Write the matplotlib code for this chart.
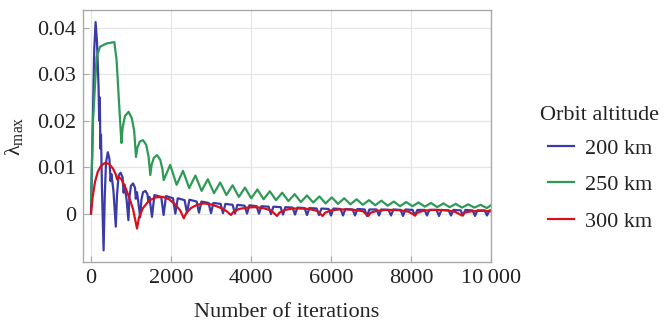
import matplotlib
matplotlib.use("Agg")
import matplotlib.pyplot as plt

plt.rcParams['font.family'] = ['Liberation Serif', 'DejaVu Serif']
plt.rcParams['mathtext.fontset'] = 'custom'
plt.rcParams['mathtext.rm'] = 'Liberation Serif'
plt.rcParams['mathtext.it'] = 'Liberation Serif:italic'

# values (iterations, lambda_max)
iter_200 = [0, 40, 80, 115, 150, 190, 205, 220, 235, 250, 275, 315,
            345, 375, 420, 460, 490, 510, 560, 620,
            650, 690, 740, 790, 815, 840, 890, 935,
            960, 1000, 1050, 1100, 1120, 1150, 1190, 1230,
            1260, 1300, 1360, 1410, 1435, 1460, 1495, 1525,
            1585, 1755, 1815, 1875, 2050, 2108, 2168, 2340, 2400,
            2460, 2640, 2700, 2760, 2940, 3000, 3060, 3240, 3300,
            3360, 3540, 3600, 3660, 3840, 3900, 3960, 4140, 4200,
            4260, 4440, 4500, 4560, 4740, 4800, 4860, 5040, 5100,
            5160, 5340, 5400, 5460, 5640, 5700, 5760, 5940, 6000,
            6060, 6240, 6300, 6360, 6540, 6600, 6660, 6840, 6900,
            6960, 7140, 7200, 7260, 7440, 7500, 7560, 7740, 7800,
            7860, 8040, 8100, 8160, 8340, 8400, 8460, 8640, 8700,
            8760, 8940, 9000, 9060, 9240, 9300, 9360, 9540, 9600,
            9660, 9840, 9900, 9960, 10000]
lam_200 = [0.0, 0.018, 0.035, 0.0412, 0.037, 0.027, 0.020, 0.025, 0.014, 0.017, 0.005, -0.0079,
           0.004, 0.011, 0.0132, 0.0118, 0.007, 0.0085, 0.005, -0.0028,
           0.004, 0.0082, 0.0088, 0.0078, 0.0045, 0.0062, 0.003, -0.0014,
           0.0035, 0.006, 0.0065, 0.0056, 0.0032, 0.0046, 0.002, -0.0008,
           0.003, 0.0046, 0.0049, 0.0042, 0.0025, 0.0036, 0.0012, -0.0007,
           0.0040, 0.0036, -0.0003, 0.0038, 0.0033, 0.0000, 0.0033, 0.0029, 0.0002,
           0.0030, 0.0026, 0.0002, 0.0026, 0.0023, 0.0001, 0.0023, 0.0021, 0.0001,
           0.0021, 0.0019, 0.0000, 0.0019, 0.0017, 0.0000, 0.0018, 0.0016, 0.0000,
           0.0016, 0.0015, -0.0001, 0.0015, 0.0014, -0.0002, 0.0014, 0.0013, -0.0002,
           0.0013, 0.0012, -0.0003, 0.0012, 0.0011, -0.0003, 0.0011, 0.0010, -0.0004,
           0.0011, 0.0010, -0.0004, 0.0010, 0.0009, -0.0004, 0.0010, 0.0009, -0.0005,
           0.0009, 0.0009, -0.0004, 0.0009, 0.0008, -0.0004, 0.0009, 0.0008, -0.0005,
           0.0009, 0.0008, -0.0004, 0.0008, 0.0008, -0.0004, 0.0008, 0.0008, -0.0005,
           0.0008, 0.0007, -0.0004, 0.0008, 0.0007, -0.0004, 0.0008, 0.0007, -0.0005,
           0.0007, 0.0007, -0.0004, 0.0007, 0.0007]

iter_250 = [0, 50, 140, 225, 390, 583, 640, 700, 760,
            790, 850, 940, 1020, 1080, 1125,
            1160, 1220, 1300, 1380, 1440, 1483,
            1515, 1570, 1650, 1730, 1785, 1817,
            1980, 2140, 2300, 2455, 2610, 2765, 2920, 3075, 3230, 3385,
            3540, 3695, 3850, 4005, 4160, 4315, 4470, 4625, 4780, 4935,
            5090, 5245, 5400, 5555, 5710, 5865, 6020, 6175, 6330, 6485,
            6640, 6795, 6950, 7105, 7260, 7415, 7570, 7725, 7880, 8035,
            8190, 8345, 8500, 8655, 8810, 8965, 9120, 9275, 9430, 9585,
            9740, 9895, 10000]
lam_250 = [0.0025, 0.020, 0.0337, 0.0359, 0.0366, 0.0369, 0.0330, 0.0240, 0.0152,
           0.0185, 0.0210, 0.0219, 0.0205, 0.0178, 0.0122,
           0.0142, 0.0155, 0.0158, 0.0148, 0.0122, 0.0083,
           0.0105, 0.0120, 0.0126, 0.0116, 0.0096, 0.0072,
           0.0105, 0.0062, 0.0092, 0.0055, 0.0082, 0.0049, 0.0074, 0.0044, 0.0067, 0.0040,
           0.0061, 0.0036, 0.0056, 0.0033, 0.0052, 0.0031, 0.0048, 0.0029, 0.0045, 0.0027,
           0.0042, 0.0025, 0.0039, 0.0024, 0.0037, 0.0022, 0.0035, 0.0021, 0.0033, 0.0020,
           0.0031, 0.0019, 0.0029, 0.0018, 0.0028, 0.0017, 0.0026, 0.0016, 0.0025, 0.0016,
           0.0024, 0.0015, 0.0023, 0.0014, 0.0022, 0.0014, 0.0021, 0.0013, 0.0020, 0.0013,
           0.0019, 0.0012, 0.0018]

iter_300 = [0, 40, 100, 170, 250, 350, 450, 550, 620, 650, 690, 760, 850, 950, 1050, 1150,
            1200, 1300, 1450, 1620, 1800, 1950, 2100, 2230, 2320,
            2380, 2500, 2650, 2820, 3000, 3200, 3380, 3500,
            3560, 3700, 3900, 4100, 4300, 4500, 4650,
            4710, 4850, 5050, 5250, 5450, 5650, 5790,
            5850, 6000, 6200, 6400, 6600, 6800, 6930,
            6990, 7150, 7350, 7550, 7750, 7950, 8100,
            8160, 8300, 8500, 8700, 8900, 9100, 9275,
            9330, 9500, 9700, 9850, 10000]
lam_300 = [0.0, 0.0035, 0.0068, 0.0090, 0.0103, 0.0109, 0.0107, 0.0097, 0.0084, 0.0074, 0.0079,
           0.0074, 0.0058, 0.0036, 0.0010, -0.0032,
           -0.0008, 0.0012, 0.0028, 0.0035, 0.0036, 0.0031, 0.0020, 0.0007, -0.0010,
           0.0001, 0.0012, 0.0019, 0.0022, 0.0020, 0.0014, 0.0006, -0.0003,
           0.0004, 0.0010, 0.0013, 0.0014, 0.0012, 0.0007, -0.0005,
           0.0002, 0.0008, 0.0011, 0.0011, 0.0010, 0.0006, -0.0005,
           0.0002, 0.0007, 0.0009, 0.0009, 0.0008, 0.0005, -0.0005,
           0.0002, 0.0006, 0.0008, 0.0008, 0.0007, 0.0004, -0.0004,
           0.0002, 0.0006, 0.0008, 0.0008, 0.0007, 0.0004, -0.0004,
           0.0002, 0.0005, 0.0006, 0.0006, 0.0005]

labels = ['200 km', '250 km', '300 km']
colors = ['#3b3ba6', '#2e9a57', '#d4121f']
x_ticks = [0, 2000, 4000, 6000, 8000, 10000]
x_tick_labels = ['0', '2000', '4000', '6000', '8000', '10\u2009000']
y_ticks = [0, 0.01, 0.02, 0.03, 0.04]
y_tick_labels = ['0', '0.01', '0.02', '0.03', '0.04']

fs = 16
fig = plt.figure(figsize=(6.64, 3.27), dpi=100)
ax = fig.add_axes([83 / 664, 1 - 262 / 327, 408 / 664, 252 / 327])

for xs, ys, lab, col in zip([iter_200, iter_250, iter_300],
                            [lam_200, lam_250, lam_300], labels, colors):
    ax.plot(xs, ys, color=col, lw=1.6, label=lab, solid_joinstyle='round')

ax.set_xlim(-200, 10000)
ax.set_ylim(-0.0104, 0.0438)
ax.set_xticks(x_ticks)
ax.set_xticklabels(x_tick_labels)
ax.set_yticks(y_ticks)
ax.set_yticklabels(y_tick_labels)
ax.tick_params(direction='in', length=4, color='#aaaaaa', labelsize=fs,
               labelcolor='#222222', pad=5)
ax.grid(True, color='#e6e6e6', lw=0.9)
ax.set_axisbelow(True)
for s in ax.spines.values():
    s.set_color('#aaaaaa')
    s.set_linewidth(1.0)

ax.set_xlabel('Number of iterations', fontsize=fs, color='#222222', labelpad=11)
ax.set_ylabel('λ$_{\\mathrm{max}}$', fontsize=fs, color='#222222', labelpad=9)

# legend title drawn on its own so the gap to the entries matches
fig.text(540 / 664, 1 - 115 / 327, 'Orbit altitude', fontsize=fs,
         color='#222222', ha='left', va='center')
leg = fig.legend(loc='upper left', bbox_to_anchor=(537 / 664, 1 - 127 / 327),
                 frameon=False, fontsize=fs, handlelength=1.15, handletextpad=0.5,
                 labelspacing=0.72, borderpad=0)
for t in leg.get_texts():
    t.set_color('#222222')

fig.savefig('out.png', dpi=100)
